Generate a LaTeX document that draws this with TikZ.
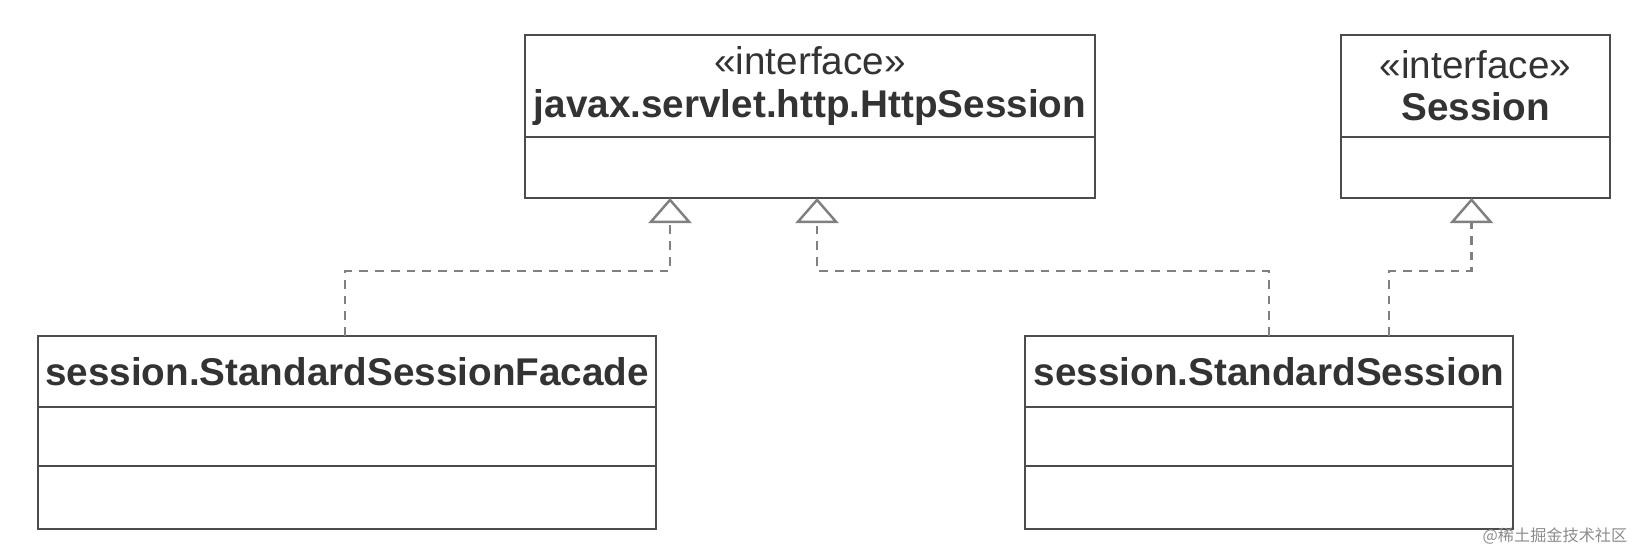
\documentclass[tikz,border=0pt]{standalone}
\usepackage{fontspec}
\setmainfont{Liberation Sans}
\newfontfamily\cjk{Noto Sans CJK SC}
\usetikzlibrary{positioning,arrows.meta}

\begin{document}
\begin{tikzpicture}[
    classhead/.style={draw=black!70, line width=0.75pt, rectangle, inner sep=0pt, outer sep=0pt,
        align=center, text=black!80, font=\fontsize{11}{12}\selectfont},
    classpart/.style={draw=black!70, line width=0.75pt, rectangle, inner sep=0pt, outer sep=0pt},
    realize/.style={draw=black!50, line width=0.7pt, dash pattern=on 2.5pt off 2pt,
        -{Triangle[open, width=0.43cm, length=0.25cm]}}
]

    \useasboundingbox (0,0) rectangle (16.48,5.53);

    %% Interfaces

    % HttpSession
    \node[classhead, minimum width=5.70cm, minimum height=1.02cm] (httpsession) at (8.10,4.67)
        {«interface»\\ \textbf{javax.servlet.http.HttpSession}};
    \node[classpart, minimum width=5.70cm, minimum height=0.61cm, below=0pt of httpsession] (httpattr) {};

    % Session
    \node[classhead, minimum width=2.69cm, minimum height=1.02cm] (session) at (14.755,4.67)
        {«interface»\\ \textbf{Session}};
    \node[classpart, minimum width=2.69cm, minimum height=0.61cm, below=0pt of session] (sessionattr) {};

    %% Classes

    % StandardSessionFacade
    \node[classhead, minimum width=6.18cm, minimum height=0.71cm] (facade) at (3.47,1.815)
        {\textbf{session.StandardSessionFacade}};
    \node[classpart, minimum width=6.18cm, minimum height=0.59cm, below=0pt of facade] (facadeattr) {};
    \node[classpart, minimum width=6.18cm, minimum height=0.63cm, below=0pt of facadeattr] (facadeops) {};

    % StandardSession
    \node[classhead, minimum width=4.88cm, minimum height=0.71cm] (standard) at (12.69,1.815)
        {\textbf{session.StandardSession}};
    \node[classpart, minimum width=4.88cm, minimum height=0.59cm, below=0pt of standard] (standardattr) {};
    \node[classpart, minimum width=4.88cm, minimum height=0.63cm, below=0pt of standardattr] (standardops) {};

    %% Realizations
    \draw[realize] ([xshift=-0.02cm]facade.north) -- ++(0,0.65) -| ([xshift=-1.40cm]httpattr.south);
    \draw[realize] (standard.north) -- ++(0,0.65) -| ([xshift=0.07cm]httpattr.south);
    \draw[realize] ([xshift=1.20cm]standard.north) -- ++(0,0.65) -| ([xshift=-0.04cm]sessionattr.south);

    % Watermark
    \node[text=black!45, font=\cjk\fontsize{4.6}{5}\selectfont] (mark) at (15.55,0.17) {@稀土掘金技术社区};

\end{tikzpicture}
\end{document}
